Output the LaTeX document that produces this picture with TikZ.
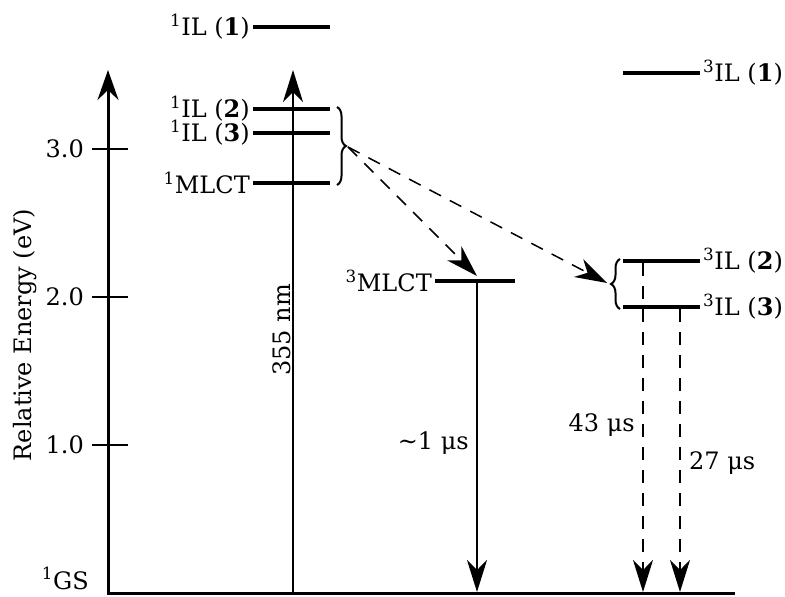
\documentclass[tikz,border=0pt]{standalone}
\usepackage{fontspec}
\setmainfont{DejaVu Serif}
\usetikzlibrary{arrows.meta,decorations.pathreplacing}
\begin{document}
\begin{tikzpicture}[x=1pt,y=-1pt,
  lvl/.style={line width=3.5pt},
  lbl/.style={font=\fontsize{24}{28}\selectfont, inner sep=3pt},
  tipa/.style={-{Stealth[length=32pt,width=20pt,inset=10pt]}},
  dsh/.style={dash pattern=on 13pt off 10pt},
  thinl/.style={line width=1.5pt},
  brc/.style={line width=2pt, decorate, decoration={brace, amplitude=9pt}}]
\useasboundingbox (0,0) rectangle (785,597);
% axes
\coordinate (axtop) at (108,70);
\coordinate (axcorner) at (108,593.5);
\coordinate (axend) at (735,593.5);
\draw[line width=3pt, {Stealth[length=30pt,width=21pt,inset=10pt]}-, line join=miter] (axtop) -- (axcorner) -- (axend);
\node[lbl, anchor=base east] (gs) at (92,589) {\textsuperscript{1}GS};
\node[lbl, rotate=90] (ylab) at (25,335) {Relative Energy (eV)};
% ticks
\foreach \v/\y/\n in {3.0/149/t3, 2.0/297/t2, 1.0/445/t1}{
  \coordinate (\n a) at (92,\y);
  \coordinate (\n b) at (128,\y);
  \draw[thinl] (\n a) -- (\n b);
  \node[lbl, anchor=east] (\n l) at (87,\y) {\v};
}
% singlet levels
\coordinate (s1a) at (253,27);  \coordinate (s1b) at (330,27);
\coordinate (s2a) at (253,109); \coordinate (s2b) at (330,109);
\coordinate (s3a) at (253,133); \coordinate (s3b) at (330,133);
\coordinate (sma) at (253,183); \coordinate (smb) at (330,183);
\draw[lvl] (s1a) -- (s1b);
\draw[lvl] (s2a) -- (s2b);
\draw[lvl] (s3a) -- (s3b);
\draw[lvl] (sma) -- (smb);
\node[lbl, anchor=east] (s1l) at (s1a) {\textsuperscript{1}IL (\textbf{1})};
\node[lbl, anchor=east] (s2l) at (s2a) {\textsuperscript{1}IL (\textbf{2})};
\node[lbl, anchor=east] (s3l) at (s3a) {\textsuperscript{1}IL (\textbf{3})};
\node[lbl, anchor=east] (sml) at (sma) {\textsuperscript{1}MLCT};
% triplet levels
\coordinate (t1a) at (623,73);  \coordinate (t1b) at (700,73);
\coordinate (t2a) at (623,261); \coordinate (t2b) at (700,261);
\coordinate (t3a) at (623,307); \coordinate (t3b) at (700,307);
\coordinate (tma) at (435,281); \coordinate (tmb) at (515,281);
\draw[lvl] (t1a) -- (t1b);
\draw[lvl] (t2a) -- (t2b);
\draw[lvl] (t3a) -- (t3b);
\draw[lvl] (tma) -- (tmb);
\node[lbl, anchor=west] (t1l) at (t1b) {\textsuperscript{3}IL (\textbf{1})};
\node[lbl, anchor=west] (t2l) at (t2b) {\textsuperscript{3}IL (\textbf{2})};
\node[lbl, anchor=west] (t3l) at (t3b) {\textsuperscript{3}IL (\textbf{3})};
\node[lbl, anchor=east] (tml) at (tma) {\textsuperscript{3}MLCT};
% braces
\draw[brc] (337,107) -- (337,185);
\coordinate (b1tip) at (348,147);
\draw[brc] (620,309) -- (620,259);
\coordinate (b2tip) at (607,283);
% excitation
\coordinate (exbot) at (293,592);
\coordinate (extop) at (293,70);
\draw[thinl, tipa] (exbot) -- (extop);
\node[lbl, rotate=90, anchor=south] (exl) at (294,330) {355 nm};
% ISC dashed arrows
\coordinate (isc1) at (477,276);
\draw[thinl, dsh, tipa] (b1tip) -- (isc1);
\draw[thinl, dsh, tipa] (b1tip) -- (b2tip);
% emission arrows
\coordinate (m1) at (477,283);
\coordinate (m1b) at (477,592);
\draw[thinl, tipa] (m1) -- (m1b);
\node[lbl, anchor=east] (m1l) at (472,443) {\textasciitilde 1 μs};
\coordinate (e2) at (643,263);
\coordinate (e2b) at (643,592);
\draw[thinl, dsh, tipa] (e2) -- (e2b);
\node[lbl, anchor=east] (e2l) at (638,425) {43 μs};
\coordinate (e3) at (680,309);
\coordinate (e3b) at (680,592);
\draw[thinl, dsh, tipa] (e3) -- (e3b);
\node[lbl, anchor=west] (e3l) at (686,463) {27 μs};
\end{tikzpicture}
\end{document}
